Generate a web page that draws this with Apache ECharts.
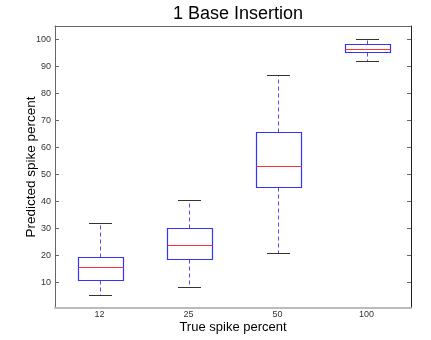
<!DOCTYPE html>
<html>
<head>
<meta charset="utf-8">
<script src="https://cdn.jsdelivr.net/npm/echarts@6/dist/echarts.min.js"></script>
<style>
  html, body { margin: 0; padding: 0; background: #fff; }
  #chart { width: 431px; height: 340px; }
</style>
</head>
<body>
<div id="chart"></div>
<script>
// true spike percent groups
const categories = ["12", "25", "50", "100"];
// box stats
const lowerWhisker = [5.4, 8.5, 21.1, 92.2];
const q1 = [11.0, 18.7, 45.3, 95.4];
const median = [15.9, 24.1, 53.3, 96.5];
const q3 = [19.3, 30.4, 65.9, 98.5];
const upperWhisker = [31.9, 40.4, 86.7, 100.1];
const yTicks = [10, 20, 30, 40, 50, 60, 70, 80, 90, 100];

let boxData = [];
for (let i = 0; i < categories.length; i++) {
  boxData.push([i, lowerWhisker[i], q1[i], median[i], q3[i], upperWhisker[i]]);
}

function px(v) {
  return Math.round(v) + 0.5;
}

function renderBox(params, api) {
  let idx = api.value(0);
  let band = api.size([1, 0])[0];
  let cx = px(api.coord([idx, 0])[0]);
  let half = band * 0.25;
  let capHalf = band * 0.125;
  let yMin = px(api.coord([idx, api.value(1)])[1]);
  let yQ1 = px(api.coord([idx, api.value(2)])[1]);
  let yMed = px(api.coord([idx, api.value(3)])[1]);
  let yQ3 = px(api.coord([idx, api.value(4)])[1]);
  let yMax = px(api.coord([idx, api.value(5)])[1]);
  let whiskerStyle = { stroke: "#4d4dff", lineWidth: 1, lineDash: [4, 3] };
  let capStyle = { stroke: "#333", lineWidth: 1 };
  return {
    type: "group",
    children: [
      { type: "line", shape: { x1: cx, y1: yQ3, x2: cx, y2: yMax }, style: whiskerStyle },
      { type: "line", shape: { x1: cx, y1: yQ1, x2: cx, y2: yMin }, style: whiskerStyle },
      { type: "line", shape: { x1: Math.round(cx - capHalf), y1: yMax, x2: Math.round(cx + capHalf), y2: yMax }, style: capStyle },
      { type: "line", shape: { x1: Math.round(cx - capHalf), y1: yMin, x2: Math.round(cx + capHalf), y2: yMin }, style: capStyle },
      {
        type: "rect",
        shape: { x: px(cx - half), y: yQ3, width: Math.round(half * 2), height: yQ1 - yQ3 },
        style: { fill: "none", stroke: "#3333ff", lineWidth: 1.2 }
      },
      { type: "line", shape: { x1: px(cx - half), y1: yMed, x2: px(cx - half) + Math.round(half * 2), y2: yMed }, style: { stroke: "#ff3333", lineWidth: 1.2 } }
    ]
  };
}

let chart = echarts.init(document.getElementById("chart"));
let option = {
  animation: false,
  textStyle: { fontFamily: "Liberation Sans, Arial, sans-serif" },
  title: {
    text: "1 Base Insertion",
    left: 233,
    textAlign: "center",
    top: 0,
    textStyle: { fontSize: 18, fontWeight: "normal", color: "#000", fontFamily: "Liberation Sans, Arial, sans-serif" }
  },
  grid: { left: 55, right: 20, top: 26, bottom: 32, outerBoundsMode: "none", containLabel: false },
  xAxis: [
    {
      type: "category",
      data: categories,
      position: "bottom",
      name: "True spike percent",
      nameLocation: "middle",
      nameGap: 13,
      nameMoveOverlap: false,
      nameTextStyle: { fontSize: 13, color: "#000" },
      axisLine: { lineStyle: { color: "#bbb", width: 2 } },
      axisTick: { inside: true, alignWithLabel: true, length: 4, lineStyle: { color: "#333" } },
      axisLabel: { fontSize: 9, color: "#333", margin: 2 },
      splitLine: { show: false }
    },
    {
      type: "category",
      data: categories,
      position: "top",
      axisLine: { lineStyle: { color: "#666" } },
      axisTick: { inside: true, alignWithLabel: true, length: 4, lineStyle: { color: "#666" } },
      axisLabel: { show: false }
    }
  ],
  yAxis: [
    {
      type: "value",
      min: 0.6,
      max: 105,
      position: "left",
      name: "Predicted spike percent",
      nameLocation: "middle",
      nameGap: 17,
      nameMoveOverlap: false,
      nameTextStyle: { fontSize: 13.5, color: "#000" },
      axisLine: { show: true, lineStyle: { color: "#666" } },
      axisTick: { show: true, inside: true, length: 4, customValues: yTicks, lineStyle: { color: "#666" } },
      axisLabel: { fontSize: 9, color: "#333", margin: 4, customValues: yTicks },
      splitLine: { show: false }
    },
    {
      type: "value",
      min: 0.6,
      max: 105,
      position: "right",
      axisLine: { show: true, lineStyle: { color: "#222" } },
      axisTick: { show: true, inside: true, length: 4, customValues: yTicks, lineStyle: { color: "#666" } },
      axisLabel: { show: false, customValues: yTicks },
      splitLine: { show: false }
    }
  ],
  series: [
    {
      type: "custom",
      renderItem: renderBox,
      encode: { x: 0, y: [1, 2, 3, 4, 5] },
      data: boxData
    }
  ]
};
chart.setOption(option);
</script>
</body>
</html>
